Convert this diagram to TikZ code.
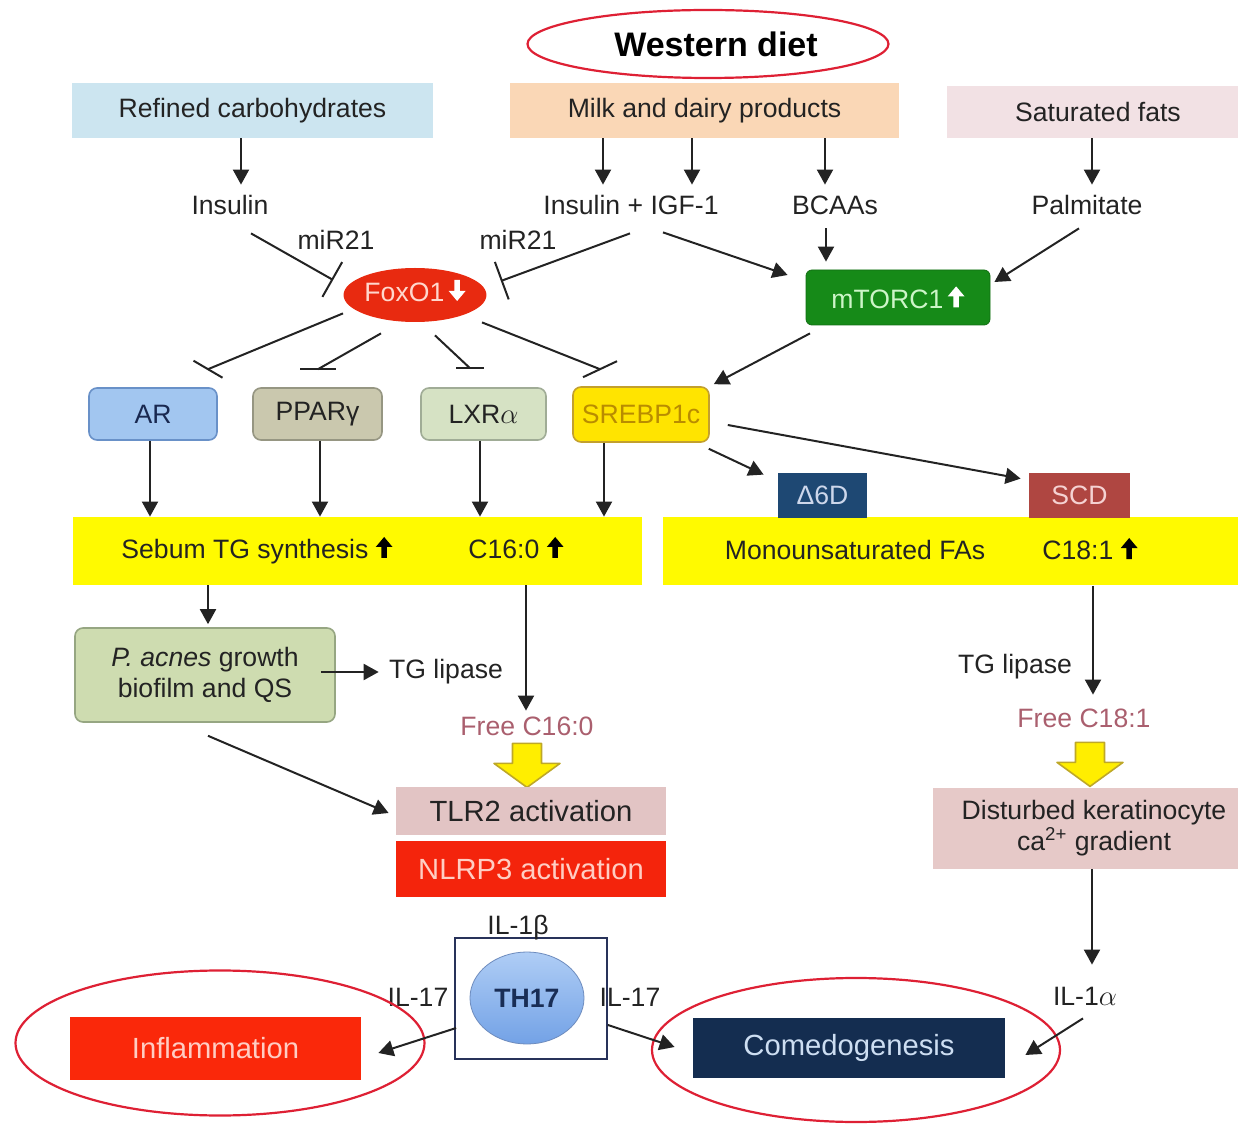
\documentclass[tikz,border=0pt]{standalone}
\usepackage{fontspec}
\setmainfont{Liberation Sans}
\usetikzlibrary{arrows.meta,shapes.geometric,calc}

\definecolor{ink}{RGB}{35,35,35}
\definecolor{ringred}{RGB}{222,32,52}
\definecolor{carbfill}{RGB}{204,229,240}
\definecolor{milkfill}{RGB}{250,215,182}
\definecolor{fatfill}{RGB}{242,225,228}
\definecolor{foxred}{RGB}{232,42,16}
\definecolor{foxtext}{RGB}{255,215,205}
\definecolor{mtorgreen}{RGB}{22,138,24}
\definecolor{mtortext}{RGB}{205,245,200}
\definecolor{arfill}{RGB}{162,198,240}
\definecolor{arline}{RGB}{105,145,200}
\definecolor{artext}{RGB}{25,40,80}
\definecolor{pparfill}{RGB}{202,200,174}
\definecolor{pparline}{RGB}{150,150,130}
\definecolor{lxrfill}{RGB}{214,226,196}
\definecolor{lxrline}{RGB}{160,172,150}
\definecolor{srebpfill}{RGB}{255,228,0}
\definecolor{srebpline}{RGB}{195,160,45}
\definecolor{srebptext}{RGB}{185,140,0}
\definecolor{d6dfill}{RGB}{30,72,115}
\definecolor{d6dtext}{RGB}{205,215,235}
\definecolor{scdfill}{RGB}{175,70,65}
\definecolor{scdtext}{RGB}{245,210,210}
\definecolor{bandyellow}{RGB}{255,250,0}
\definecolor{pacfill}{RGB}{206,220,176}
\definecolor{pacline}{RGB}{150,166,130}
\definecolor{freetext}{RGB}{170,95,110}
\definecolor{arrowyellow}{RGB}{255,238,0}
\definecolor{arrowedge}{RGB}{190,168,40}
\definecolor{tlrfill}{RGB}{226,196,196}
\definecolor{nlrpred}{RGB}{244,36,12}
\definecolor{nlrptext}{RGB}{255,205,195}
\definecolor{thline}{RGB}{40,50,90}
\definecolor{thtop}{RGB}{175,205,245}
\definecolor{thbot}{RGB}{115,162,230}
\definecolor{thcircline}{RGB}{110,140,190}
\definecolor{navytext}{RGB}{25,45,85}
\definecolor{inflred}{RGB}{250,40,10}
\definecolor{infltext}{RGB}{255,205,195}
\definecolor{comedonavy}{RGB}{20,45,80}
\definecolor{comedotext}{RGB}{205,222,242}
\definecolor{keratfill}{RGB}{230,201,200}

% thick arrows set inside the labels
\newcommand{\uparr}[1]{\tikz[baseline=-0.5pt,x=1pt,y=1pt,sharp corners]\fill[#1] (-1.4,0) -- (1.4,0) -- (1.4,5.5) -- (4.2,5.5) -- (0,10.5) -- (-4.2,5.5) -- (-1.4,5.5) -- cycle;}
\newcommand{\dnarr}[1]{\tikz[baseline=-0.5pt,x=1pt,y=1pt,sharp corners]\fill[#1] (-1.4,10.5) -- (1.4,10.5) -- (1.4,5) -- (4.2,5) -- (0,0) -- (-4.2,5) -- (-1.4,5) -- cycle;}

\begin{document}
\begin{tikzpicture}[x=0.5pt,y=-0.5pt,
  txt/.style={font=\fontsize{13.3}{15.5}\selectfont, text=ink},
  big/.style={font=\fontsize{14.6}{17}\selectfont},
  lab/.style={txt, inner sep=2pt, text height=10pt, text depth=3pt},
  plain/.style={txt, rectangle, inner sep=0pt},
  src/.style={plain, minimum height=27.5pt},
  tfbox/.style={plain, rounded corners=4pt, draw, line width=0.8pt, minimum height=26pt},
  enz/.style={plain, minimum height=22.5pt},
  band/.style={plain, fill=bandyellow, minimum height=34pt},
  ring/.style={ellipse, draw=ringred, line width=1.1pt, inner sep=0pt},
  arr/.style={-{Triangle[length=7.5pt,width=8pt]}, line width=1pt, ink},
  inh/.style={-{Bar[width=20pt,line width=1pt]}, line width=1pt, ink},
  inhline/.style={line width=1pt, ink},
  fatdown/.pic={\draw[fill=arrowyellow, draw=arrowedge, line width=0.8pt, line join=round]
    (-14.5,0) -- (14.5,0) -- (14.5,20) -- (33,20) -- (0,44) -- (-33,20) -- (-14.5,20) -- cycle;}]
\useasboundingbox (0,0) rectangle (1238,1128);

% diet sources
\node[ring, minimum width=180.5pt, minimum height=34pt, text=black,
  font=\fontsize{17}{20}\bfseries\selectfont] (diet) at (708,44) {\hspace*{8pt}Western diet};
\node[src, fill=carbfill, minimum width=180.5pt] (carbs) at (252.5,110.5) {Refined carbohydrates};
\node[src, fill=milkfill, minimum width=194.5pt] (milk) at (704.5,110.5) {Milk and dairy products};
\node[src, fill=fatfill, minimum width=151pt, minimum height=26pt] (fats) at (1098,112) {Saturated fats};

\node[lab] (ins) at (230,208) {Insulin};
\node[lab] (insigf) at (631,208) {Insulin + IGF-1};
\node[lab] (bcaa) at (835,208) {BCAAs};
\node[lab] (palm) at (1087,208) {Palmitate};
\node[lab] (mirA) at (336,243) {miR21};
\node[lab] (mirB) at (518,243) {miR21};

% FoxO1 and mTORC1
\node[ellipse, fill=foxred, minimum width=69pt, minimum height=27pt, lab, inner sep=0pt,
  text=foxtext] (foxo) at (415,295) {FoxO1\,\dnarr{white}};
\node[plain, rounded corners=3pt, fill=mtorgreen, draw=mtorgreen!80!black, minimum width=92pt,
  minimum height=27.5pt, text=mtortext] (mtor) at (898,297.5) {mTORC1\,\uparr{white}};

% transcription factors
\node[tfbox, fill=arfill, draw=arline, minimum width=64pt, text=artext] (ar) at (153,414) {AR};
\node[tfbox, fill=pparfill, draw=pparline, minimum width=64.5pt] (ppar) at (317.5,414) {PPARγ};
\node[tfbox, fill=lxrfill, draw=lxrline, minimum width=62.5pt] (lxr) at (483.5,414) {LXR$\alpha$};
\node[tfbox, fill=srebpfill, draw=srebpline, minimum width=68pt, minimum height=27.5pt,
  text=srebptext] (srebp) at (641,414.5) {SREBP1c};

% lipid bands
\node[band, minimum width=284.5pt] (bandL) at (357.5,551) {};
\node[band, minimum width=293.5pt] (bandR) at (956.5,551.5) {};
\node[enz, fill=d6dfill, text=d6dtext, minimum width=44.5pt] (d6d) at (822.5,495.5) {Δ6D};
\node[enz, fill=scdfill, text=scdtext, minimum width=50.5pt] (scd) at (1079.5,495.5) {SCD};
\node[lab] (tgsyn) at (257,552) {Sebum TG synthesis \uparr{black}};
\node[lab] (c16) at (516,552) {C16:0 \uparr{black}};
\node[lab] (mufa) at (855,553) {Monounsaturated FAs};
\node[lab] (c18) at (1090,553) {C18:1 \uparr{black}};

% left branch
\node[tfbox, fill=pacfill, draw=pacline, minimum width=130pt, minimum height=47pt,
  align=center] (pacnes) at (205,675) {\textit{P. acnes} growth\\biofilm and QS};
\node[lab] (tglA) at (446,672) {TG lipase};
\node[lab, text=freetext] (free16) at (527,728) {Free C16:0};
\pic at ($(free16.south)+(0,-2)$) {fatdown};
\node[plain, big, fill=tlrfill, minimum width=135pt, minimum height=24pt] (tlr) at (531,811) {TLR2 activation};
\node[plain, big, fill=nlrpred, text=nlrptext, minimum width=135pt, minimum height=28pt] (nlrp) at (531,869) {NLRP3 activation};

% TH17 cell
\node[draw=thline, line width=0.9pt, fill=white, minimum width=76pt, minimum height=60.5pt] (thbox) at (531,998.5) {};
\node[ellipse, top color=thtop, bottom color=thbot, draw=thcircline, minimum width=57pt, minimum height=46pt,
  inner sep=0pt, font=\fontsize{13.3}{15}\bfseries\selectfont, text=navytext] (th) at (527,998) {TH17};
\node[lab] (ilb) at (518,927) {IL-1β};
\node[lab] (ilA) at (418,999) {IL-17};
\node[lab] (ilB) at (630,999) {IL-17};

% outcomes
\node[plain, big, fill=inflred, text=infltext, minimum width=145.5pt, minimum height=31.5pt] (inflam) at (215.5,1048.5) {Inflammation};
\node[ring, minimum width=204.5pt, minimum height=72.5pt] (inflring) at (220,1043) {};
\node[plain, big, fill=comedonavy, text=comedotext, minimum width=156pt, minimum height=30pt] (comedo) at (849,1048) {Comedogenesis};
\node[ring, minimum width=204pt, minimum height=72pt] (comedoring) at (856,1050) {};

% right branch
\node[lab] (tglB) at (1015,667) {TG lipase};
\node[lab, text=freetext] (free18) at (1084,720) {Free C18:1};
\pic at ($(free18.south)+(6,5)$) {fatdown};
\node[plain, fill=keratfill, minimum width=161pt, minimum height=40.5pt, align=center]
  (kerat) at (1094,828.5) {Disturbed keratinocyte\\ca\textsuperscript{2+} gradient};
\node[lab] (ilal) at (1085,998) {IL-1$\alpha$};

% diet arrows
\draw[arr, shorten >=3pt] (carbs.south -| 241,0) -- (ins.north -| 241,0);
\draw[arr, shorten >=3pt] (milk.south -| 603,0) -- (insigf.north -| 603,0);
\draw[arr, shorten >=3pt] (milk.south -| 692,0) -- (insigf.north -| 692,0);
\draw[arr, shorten >=3pt] (milk.south -| 825,0) -- (bcaa.north -| 825,0);
\draw[arr, shorten >=3pt] (fats.south -| 1092,0) -- (palm.north -| 1092,0);
\draw[arr, shorten <=1.5pt, shorten >=4pt] (bcaa.south -| 826,0) -- (mtor.north -| 826,0);
\draw[arr] ($(palm.south)+(-8,3)$) -- ($(mtor.east)+(4,-15.5)$);
\draw[arr] ($(insigf.south)+(32,7)$) -- ($(mtor.west)+(-18,-22.5)$);

% miR21 inhibition of FoxO1
\draw[inh] ($(ins.south)+(21,8)$) -- ($(foxo.west)+(-10,-15)$);
\draw[inh] ($(insigf.south)+(-1,8)$) -- ($(foxo.east)+(14,-14)$);

% FoxO1 inhibition of the factors
\draw[inhline] ($(foxo.south)+(-72,-9)$) -- ($(ar.north)+(55,-18)$) coordinate (arbar);
\draw[inhline] (arbar) ++(-14.5,-8.5) -- ++(29,17);
\draw[inhline] ($(foxo.south)+(-34,11)$) -- ($(ppar.north)+(0.5,-18)$) coordinate (pparbar);
\draw[inhline] (pparbar) ++(-18,0) -- ++(36,0);
\draw[inhline] ($(foxo.south)+(20,13)$) -- ($(lxr.north)+(-13.5,-19)$) coordinate (lxrbar);
\draw[inhline] (lxrbar) ++(-14,0) -- ++(28,0);
\draw[inhline] ($(foxo.south)+(67,0)$) -- ($(srebp.north)+(-41,-17)$) coordinate (srebpbar);
\draw[inhline] (srebpbar) ++(-17,8) -- ++(34,-16);

% mTORC1 to SREBP1c and enzymes
\draw[arr] ($(mtor.south)+(-88,8)$) -- ($(srebp.north east)+(4,-2)$);
\draw[arr] ($(srebp.south east)+(-1,6)$) -- ($(d6d.north west)+(-14,2)$);
\draw[arr] ($(srebp.east)+(18,10.5)$) -- ($(scd.north west)+(-8,6)$);

% factors to sebum
\draw[arr] (ar.south -| 150,0) -- (bandL.north -| 150,0);
\draw[arr] (ppar.south -| 320,0) -- (bandL.north -| 320,0);
\draw[arr] (lxr.south -| 480,0) -- (bandL.north -| 480,0);
\draw[arr] (srebp.south -| 604,0) -- (bandL.north -| 604,0);

% left branch arrows
\draw[arr, shorten >=1.5pt] (bandL.south -| 208,0) -- (pacnes.north -| 208,0);
\draw[arr] (bandL.south -| 526,0) -- (free16.north -| 526,0);
\draw[arr, shorten >=3pt] ($(pacnes.east)+(-15,-3)$) -- (tglA.west);
\draw[arr] ($(pacnes.south)+(3,13)$) -- ($(tlr.west)+(-7,2)$);
\draw[arr] ($(thbox.west)+(2,29.5)$) -- ($(inflam.east)+(17,4.5)$);
\draw[arr] ($(thbox.east)+(0,26.5)$) -- ($(comedo.west)+(-18,-1)$);

% right branch arrows
\draw[arr, shorten >=4pt] (bandR.south -| 1093,0) -- (free18.north -| 1093,0);
\draw[arr, shorten >=8pt] (kerat.south -| 1092,0) -- (ilal.north -| 1092,0);
\draw[arr] ($(ilal.south)+(-2,3)$) -- ($(comedo.east)+(20,7)$);
\end{tikzpicture}
\end{document}
